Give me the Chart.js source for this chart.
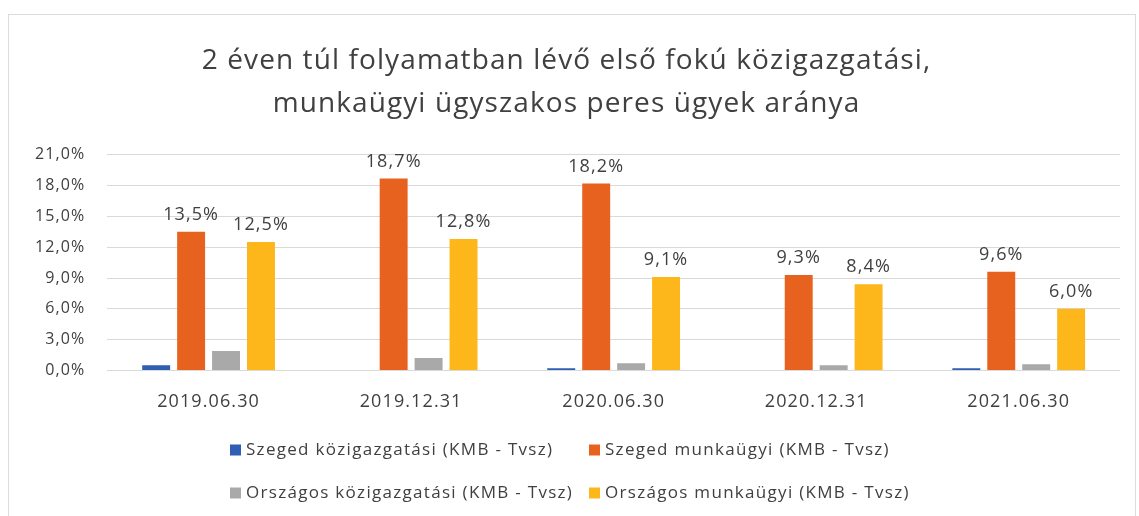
<!DOCTYPE html>
<html>
<head>
<meta charset="utf-8">
<script src="https://cdn.jsdelivr.net/npm/chart.js@4"></script>
<style>
  html, body { margin: 0; padding: 0; background: #fff; }
  #wrap { position: relative; width: 1139px; height: 516px; overflow: hidden; }
  #frame { position: absolute; left: 8px; top: 14px; width: 1126px; height: 510px; border: 1px solid #dcdcdc; }
  canvas { position: absolute; left: 0; top: 0; }
</style>
</head>
<body>
<div id="wrap">
  <div id="frame"></div>
  <canvas id="chart" width="1139" height="516"></canvas>
</div>
<script>
// Adatok
const categories = ["2019.06.30", "2019.12.31", "2020.06.30", "2020.12.31", "2021.06.30"];
const szegedKozig = [0.5, 0.0, 0.2, 0.0, 0.2];
const szegedMunka = [13.5, 18.7, 18.2, 9.3, 9.6];
const orszKozig = [1.9, 1.2, 0.7, 0.5, 0.6];
const orszMunka = [12.5, 12.8, 9.1, 8.4, 6.0];
const seriesNames = [
    "Szeged közigazgatási (KMB - Tvsz)",
    "Szeged munkaügyi (KMB - Tvsz)",
    "Országos közigazgatási (KMB - Tvsz)",
    "Országos munkaügyi (KMB - Tvsz)"
];
const yTicks = [0, 3, 6, 9, 12, 15, 18, 21];

const FONT = "'Open Sans', sans-serif";
const TEXT = "#404040";
const colors = ["#2f5fb3", "#e8621f", "#a9a9a9", "#fdb71a"];

function pct(v) {
    return v.toFixed(1).replace(".", ",") + "%";
}

// Szélesebb betűköz (a minta betűi szélesek)
const spacing = {
    id: "spacing",
    beforeUpdate(chart) { chart.ctx.letterSpacing = "1.1px"; },
    beforeDraw(chart) { chart.ctx.letterSpacing = "1.1px"; }
};

// Címkék a narancs és sárga oszlopok fölé
const valueLabels = {
    id: "valueLabels",
    afterDatasetsDraw(chart) {
        const ctx = chart.ctx;
        ctx.save();
        ctx.font = "18px " + FONT;
        ctx.fillStyle = TEXT;
        ctx.textAlign = "center";
        ctx.textBaseline = "bottom";
        [1, 3].forEach(function (di) {
            const meta = chart.getDatasetMeta(di);
            meta.data.forEach(function (bar, i) {
                ctx.fillText(pct(chart.data.datasets[di].data[i]), bar.x, bar.y - 8);
            });
        });
        ctx.restore();
    }
};

// Jelmagyarázat két sorban, két oszlopban
const twoRowLegend = {
    id: "twoRowLegend",
    afterDraw(chart) {
        const ctx = chart.ctx;
        const rows = [[0, 1], [2, 3]];
        const rowY = [450, 493];
        const colX = [230, 589];
        const box = 11, gap = 5;
        ctx.save();
        ctx.letterSpacing = "1.3px";
        ctx.font = "17px " + FONT;
        ctx.textBaseline = "middle";
        ctx.textAlign = "left";
        rows.forEach(function (row, r) {
            row.forEach(function (i, c) {
                ctx.fillStyle = colors[i];
                ctx.fillRect(colX[c], rowY[r] - box / 2, box, box);
                ctx.fillStyle = TEXT;
                ctx.fillText(seriesNames[i], colX[c] + box + gap, rowY[r]);
            });
        });
        ctx.restore();
    }
};

const ctx = document.getElementById("chart").getContext("2d");
new Chart(ctx, {
    type: "bar",
    data: {
        labels: categories,
        datasets: [
            { label: seriesNames[0], data: szegedKozig, backgroundColor: colors[0] },
            { label: seriesNames[1], data: szegedMunka, backgroundColor: colors[1] },
            { label: seriesNames[2], data: orszKozig, backgroundColor: colors[2] },
            { label: seriesNames[3], data: orszMunka, backgroundColor: colors[3] }
        ]
    },
    options: {
        responsive: false,
        animation: false,
        datasets: { bar: { categoryPercentage: 0.69, barPercentage: 0.8 } },
        layout: { padding: { left: 13, right: 19, top: 0, bottom: 90 } },
        plugins: {
            legend: { display: false },
            tooltip: { enabled: false },
            title: {
                display: true,
                text: ["2 éven túl folyamatban lévő első fokú közigazgatási,", "munkaügyi ügyszakos peres ügyek aránya"],
                color: TEXT,
                font: { family: FONT, size: 28, weight: "normal", lineHeight: 1.55 },
                padding: { top: 39, bottom: 29 }
            }
        },
        scales: {
            x: {
                grid: { display: false },
                border: { display: false },
                ticks: { color: TEXT, font: { family: FONT, size: 18 }, padding: 13 }
            },
            y: {
                min: 0,
                max: 21,
                afterBuildTicks: function (axis) {
                    axis.ticks = yTicks.map(function (v) { return { value: v }; });
                },
                grid: { color: "#d9d9d9", drawTicks: false },
                border: { display: false },
                ticks: {
                    color: TEXT,
                    font: { family: FONT, size: 16 },
                    padding: 22,
                    callback: function (v) { return pct(v); }
                }
            }
        }
    },
    plugins: [spacing, valueLabels, twoRowLegend]
});
</script>
</body>
</html>
